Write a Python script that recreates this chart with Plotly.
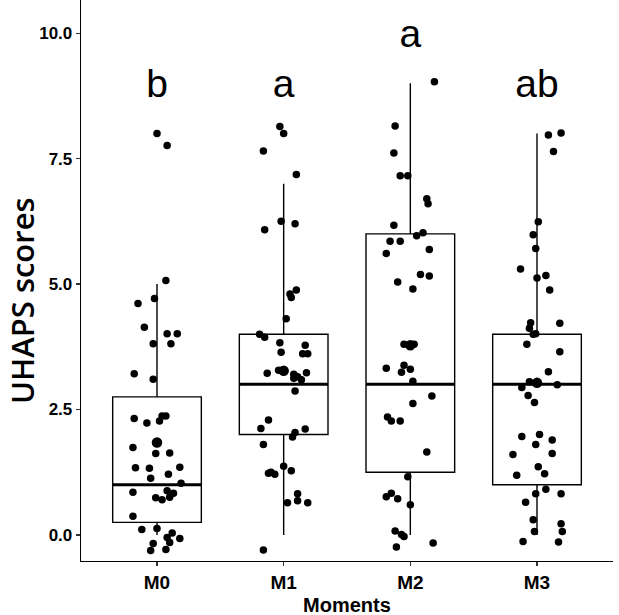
import plotly.graph_objects as go

# ---------------- data ----------------
categories = ["M0", "M1", "M2", "M3"]

# box statistics
q1 = [0.25, 2.0, 1.25, 1.0]
median = [1.0, 3.0, 3.0, 3.0]
q3 = [2.75, 4.0, 6.0, 4.0]
lower_whisker = [0.0, 0.0, 0.0, 0.0]
upper_whisker = [5.0, 7.0, 9.0, 8.0]

# group means (large dots)
means = [1.84, 3.27, 3.78, 3.03]

# significance letters
letters = ["b", "a", "a", "ab"]
letter_y = [8.92, 8.92, 9.92, 8.92]

# jittered observations: horizontal offset from category centre, value
m0_dx = [0.00, 0.08, 0.07, -0.02, -0.15, -0.10, 0.08, 0.16, -0.03, 0.11, -0.18, -0.03,
         -0.18, -0.08, 0.02, 0.04, 0.07, -0.19, -0.01, 0.10, -0.17, -0.06, 0.18, -0.05,
         0.09, 0.19, -0.19, -0.01, 0.04, 0.08, 0.10, 0.13, -0.19, -0.12, 0.00, 0.08,
         0.12, 0.18, 0.10, -0.03, -0.05, 0.07]
m0_y = [8.00, 7.76, 5.07, 4.71, 4.61, 4.14, 4.01, 4.01, 3.81, 3.81, 3.21, 3.10,
        2.32, 2.23, 2.27, 2.37, 2.37, 1.74, 1.62, 1.63, 1.34, 1.33, 1.35, 1.13,
        1.21, 1.03, 0.85, 0.74, 0.70, 0.88, 0.75, 0.83, 0.37, 0.11, 0.13, -0.05,
        0.04, -0.07, -0.15, -0.17, -0.31, -0.29]

m1_dx = [-0.03, 0.00, -0.16, 0.10, -0.02, 0.09, -0.15, 0.10, 0.05, 0.06, 0.02, -0.19,
         -0.15, -0.03, 0.17, -0.02, 0.15, 0.19, -0.13, -0.04, 0.08, 0.11, 0.18, 0.08,
         0.14, 0.09, -0.12, -0.18, 0.17, 0.09, 0.07, -0.16, 0.00, 0.06, -0.12, -0.10,
         -0.07, 0.11, 0.11, 0.03, 0.19, -0.16]
m1_y = [8.14, 8.00, 7.65, 7.18, 6.25, 6.20, 6.08, 4.88, 4.80, 4.73, 4.31, 4.00,
        3.94, 3.83, 3.78, 3.64, 3.61, 3.61, 3.22, 3.28, 3.20, 3.15, 3.23, 3.12,
        3.09, 2.87, 2.29, 2.12, 2.11, 2.04, 1.95, 1.80, 1.37, 1.28, 1.23, 1.25,
        1.21, 0.82, 0.68, 0.64, 0.64, -0.30]

m2_dx = [0.19, -0.12, -0.13, -0.08, -0.02, 0.13, 0.14, -0.13, 0.05, 0.10, -0.16, -0.08,
         0.15, -0.19, 0.08, 0.15, -0.10, 0.02, -0.05, 0.03, -0.19, -0.05, -0.07, 0.00,
         0.02, 0.17, 0.02, -0.18, -0.15, -0.08, 0.13, -0.02, -0.19, -0.15, -0.10, 0.00,
         -0.12, -0.07, -0.05, -0.11, 0.18]
m2_y = [9.03, 8.15, 7.61, 7.16, 7.16, 6.70, 6.60, 6.17, 5.96, 6.02, 5.85, 5.85,
        5.69, 5.61, 5.19, 5.16, 5.04, 4.90, 3.80, 3.80, 3.32, 3.38, 3.24, 3.30,
        3.06, 2.77, 2.62, 2.35, 2.27, 2.27, 1.65, 1.16, 0.76, 0.83, 0.72, 0.60,
        0.08, 0.01, -0.03, -0.24, -0.16]

m3_dx = [0.09, 0.19, 0.13, 0.01, -0.03, -0.01, -0.13, 0.00, 0.07, 0.10, -0.05, 0.18,
         -0.06, -0.03, -0.01, -0.08, 0.18, 0.09, -0.06, -0.12, 0.16, -0.07, -0.02, -0.12,
         0.02, 0.12, -0.01, -0.19, 0.12, 0.01, 0.06, -0.16, 0.07, -0.01, 0.19, -0.09,
         -0.03, 0.19, -0.02, 0.20, -0.11, 0.17]
m3_y = [7.97, 8.01, 7.64, 6.24, 5.98, 5.71, 5.30, 5.12, 5.17, 4.88, 4.23, 4.22,
        4.12, 4.00, 4.01, 3.80, 3.65, 3.25, 3.05, 2.94, 2.99, 2.78, 2.64, 1.96,
        2.00, 1.89, 1.80, 1.60, 1.62, 1.36, 1.22, 1.19, 0.91, 0.82, 0.82, 0.65,
        0.30, 0.22, 0.07, 0.07, -0.13, -0.14]

y_ticks = [0.0, 2.5, 5.0, 7.5, 10.0]

groups_dx = [m0_dx, m1_dx, m2_dx, m3_dx]
groups_y = [m0_y, m1_y, m2_y, m3_y]

# ---------------- figure ----------------
pos = list(range(len(categories)))
box_width = 0.70

fig = go.Figure()

fig.add_trace(go.Box(
    x=pos, q1=q1, median=median, q3=q3,
    lowerfence=lower_whisker, upperfence=upper_whisker,
    width=box_width, whiskerwidth=0, boxpoints=False,
    fillcolor="white", line=dict(color="black", width=1.4),
    hoverinfo="skip", showlegend=False,
))

# thick median bars
mx, my = [], []
for p, m in zip(pos, median):
    mx += [p - box_width / 2, p + box_width / 2, None]
    my += [m, m, None]
fig.add_trace(go.Scatter(x=mx, y=my, mode="lines",
                         line=dict(color="black", width=3), showlegend=False,
                         hoverinfo="skip"))

# jittered points
px, py = [], []
for p, dxs, ys in zip(pos, groups_dx, groups_y):
    for d, v in zip(dxs, ys):
        px.append(p + d)
        py.append(v)
fig.add_trace(go.Scatter(x=px, y=py, mode="markers",
                         marker=dict(color="black", size=7.5, line=dict(width=0)),
                         showlegend=False))

# mean points
fig.add_trace(go.Scatter(x=pos, y=means, mode="markers",
                         marker=dict(color="black", size=10.5, line=dict(width=0)),
                         showlegend=False))

# letters
fig.add_trace(go.Scatter(x=pos, y=letter_y, mode="text", text=letters,
                         textposition="middle center",
                         textfont=dict(family="Liberation Sans, Arial, sans-serif",
                                       size=39, color="black"),
                         showlegend=False, hoverinfo="skip"))

fig.update_layout(
    width=619, height=615,
    margin=dict(l=81, r=6, t=0, b=54, autoexpand=False),
    paper_bgcolor="white", plot_bgcolor="white",
    showlegend=False,
    annotations=[
        dict(text="<b>Moments</b>", xref="paper", yref="paper", x=0.5, y=-0.078,
             xanchor="center", yanchor="middle", showarrow=False,
             font=dict(family="Liberation Sans, Arial, sans-serif", size=20,
                       color="black")),
        dict(text="UHAPS scores", xref="paper", yref="paper", x=-0.111, y=0.465,
             xanchor="center", yanchor="middle", showarrow=False, textangle=-90,
             font=dict(family="Open Sans, sans-serif", size=31, color="black",
                       weight=600)),
    ],
)
fig.update_xaxes(
    range=[-0.6, 3.6], tickvals=pos, ticktext=categories, automargin=False,
    showline=True, linecolor="black", linewidth=1.3,
    ticks="outside", ticklen=4, tickcolor="#333333", tickwidth=1.2,
    showgrid=False, zeroline=False,
    tickfont=dict(family="Liberation Sans, Arial, sans-serif", size=19,
                  color="black", weight="bold"),
)
fig.update_yaxes(
    range=[-0.52, 10.66], tickvals=y_ticks, automargin=False,
    ticktext=[f"{t:.1f}" for t in y_ticks],
    showline=True, linecolor="black", linewidth=1.3,
    ticks="outside", ticklen=4, tickcolor="#333333", tickwidth=1.2,
    showgrid=False, zeroline=False,
    tickfont=dict(family="Liberation Sans, Arial, sans-serif", size=17,
                  color="black", weight="bold"),
)

fig.write_html(
    "out.html",
    config={"displayModeBar": False, "staticPlot": True},
    post_script="document.body.style.margin='0';document.body.style.overflow='hidden';",
)
